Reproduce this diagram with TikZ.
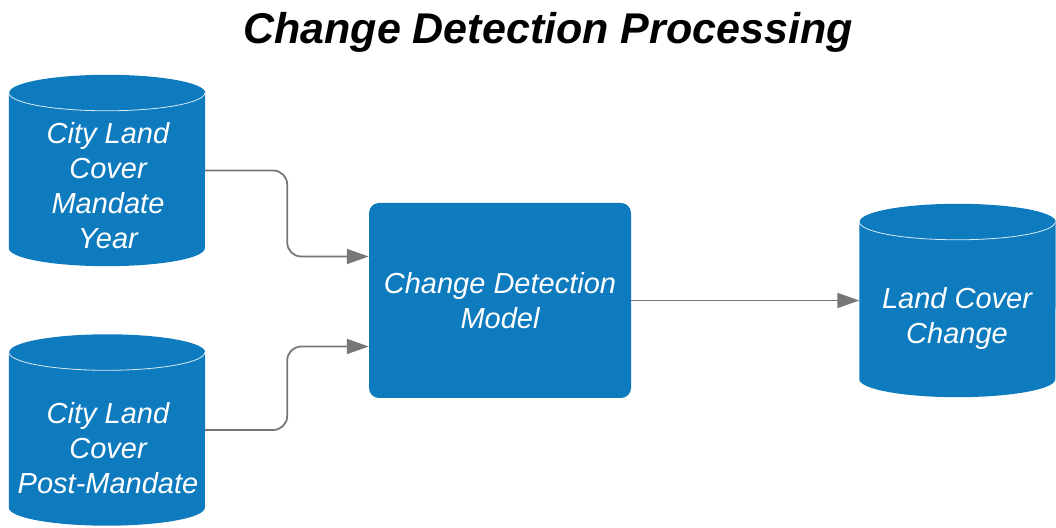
\documentclass[tikz,border=0pt]{standalone}
\usepackage{fontspec}
\setmainfont{Liberation Sans}
\usetikzlibrary{arrows.meta}
\definecolor{boxblue}{HTML}{0E7BBE}
\definecolor{linegray}{HTML}{777777}
\newcommand\drawcyl[1]{%
  \fill[boxblue] (#1.north west) -- (#1.south west)
    arc[start angle=180,end angle=360,x radius=98pt,y radius=18pt]
    -- (#1.north east)
    arc[start angle=0,end angle=180,x radius=98pt,y radius=18pt] -- cycle;
  \draw[white,line width=0.8pt,opacity=0.85] (#1.north west)
    arc[start angle=180,end angle=360,x radius=98pt,y radius=18pt];}
\begin{document}
\begin{tikzpicture}[x=1pt,y=1pt,
  cylbody/.style={minimum width=196pt, minimum height=155pt, inner sep=0pt},
  lbl/.style={text=white, font=\fontsize{29}{35}\selectfont\itshape, align=center},
  procbox/.style={fill=boxblue, rounded corners=10pt, minimum width=262pt, minimum height=195pt, inner sep=0pt},
  conn/.style={draw=linegray, line width=1.8pt, rounded corners=14pt, -{Triangle[length=22pt,width=15pt]}}]
\useasboundingbox (0,0) rectangle (1056,527);
\node[cylbody] (c1) at (107,356.5) {};
\node[cylbody] (c2) at (107,97) {};
\node[cylbody, minimum height=157pt] (c3) at (957.5,226.5) {};
\drawcyl{c1}
\drawcyl{c2}
\drawcyl{c3}
\node[lbl] (t1) at (108,341.5) {City Land\\Cover\\Mandate\\Year};
\node[lbl] (t2) at (108,79) {City Land\\Cover\\Post-Mandate};
\node[lbl] (t3) at (957,208.5) {Land Cover\\Change};
\node[procbox, lbl] (box) at (500,226.5) {Change Detection\\Model};
\node[font=\fontsize{43}{50}\selectfont\bfseries\itshape] (title) at (548,495) {Change Detection Processing};
\draw[conn] (c1.east) -- ++(82,0) |- ([yshift=44pt]box.west);
\draw[conn] (c2.east) -- ++(82,0) |- ([yshift=-46pt]box.west);
\draw[conn] (box.east) -- (c3.west);
\end{tikzpicture}
\end{document}
